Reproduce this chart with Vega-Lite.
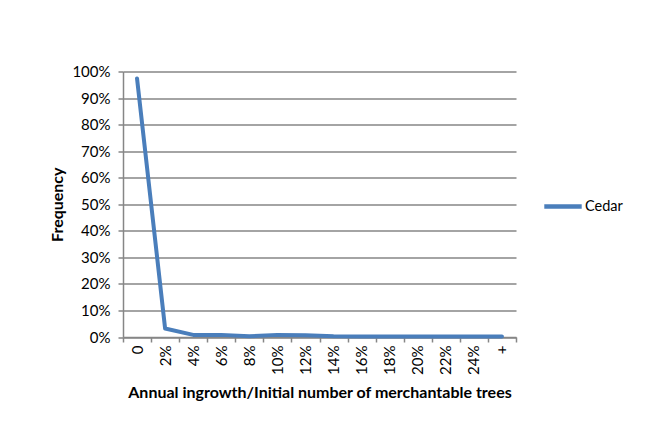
{
  "$schema": "https://vega.github.io/schema/vega-lite/v6.json",
  "autosize": "none",
  "padding": {"left": 123, "top": 71.5, "right": 132, "bottom": 106},
  "width": 393,
  "height": 265.5,
  "background": "white",
  "config": {
    "font": "Lato",
    "view": {"stroke": null},
    "axis": {"labelFont": "Lato", "titleFont": "Lato", "labelColor": "black", "titleColor": "black", "labelFontSize": 15, "titleFontSize": 16, "titleFontWeight": "bold"}
  },
  "data": {
    "values": [
      {"cat": "0", "series": "Cedar", "freq": 0.974},
      {"cat": "2%", "series": "Cedar", "freq": 0.032},
      {"cat": "4%", "series": "Cedar", "freq": 0.008},
      {"cat": "6%", "series": "Cedar", "freq": 0.008},
      {"cat": "8%", "series": "Cedar", "freq": 0.003},
      {"cat": "10%", "series": "Cedar", "freq": 0.008},
      {"cat": "12%", "series": "Cedar", "freq": 0.007},
      {"cat": "14%", "series": "Cedar", "freq": 0.003},
      {"cat": "16%", "series": "Cedar", "freq": 0.002},
      {"cat": "18%", "series": "Cedar", "freq": 0.002},
      {"cat": "20%", "series": "Cedar", "freq": 0.002},
      {"cat": "22%", "series": "Cedar", "freq": 0.002},
      {"cat": "24%", "series": "Cedar", "freq": 0.002},
      {"cat": "+", "series": "Cedar", "freq": 0.002}
    ]
  },
  "mark": {"type": "line", "strokeWidth": 4, "strokeCap": "round", "strokeJoin": "round"},
  "encoding": {
    "x": {
      "field": "cat", "type": "ordinal", "sort": null,
      "scale": {"type": "band", "paddingInner": 0, "paddingOuter": 0},
      "axis": {"title": "Annual ingrowth/Initial number of merchantable trees", "labelAngle": -90, "labelAlign": "right", "labelBaseline": "middle", "tickBand": "extent", "domainColor": "#868686", "domainWidth": 1.5, "tickColor": "#868686", "tickWidth": 1.5, "tickSize": 5, "labelPadding": 3, "titlePadding": 10, "grid": false, "labelOverlap": false}
    },
    "y": {
      "field": "freq", "type": "quantitative",
      "scale": {"domain": [0, 1], "nice": false},
      "axis": {"title": "Frequency", "format": ".0%", "values": [0, 0.1, 0.2, 0.3, 0.4, 0.5, 0.6, 0.7, 0.8, 0.9, 1], "labelOverlap": false, "gridColor": "#868686", "gridWidth": 1.5, "domainColor": "#868686", "domainWidth": 1.5, "tickColor": "#868686", "tickWidth": 1.5, "tickSize": 5, "labelPadding": 8, "titlePadding": 6}
    },
    "color": {
      "field": "series", "type": "nominal",
      "scale": {"range": ["#4a7ebb"]},
      "legend": {"title": null, "orient": "none", "legendX": 419, "legendY": 114, "symbolType": "stroke", "symbolStrokeWidth": 4.5, "symbolSize": 1400, "labelFontSize": 14.5, "labelFont": "Lato", "labelColor": "black", "labelOffset": 1}
    }
  }
}
